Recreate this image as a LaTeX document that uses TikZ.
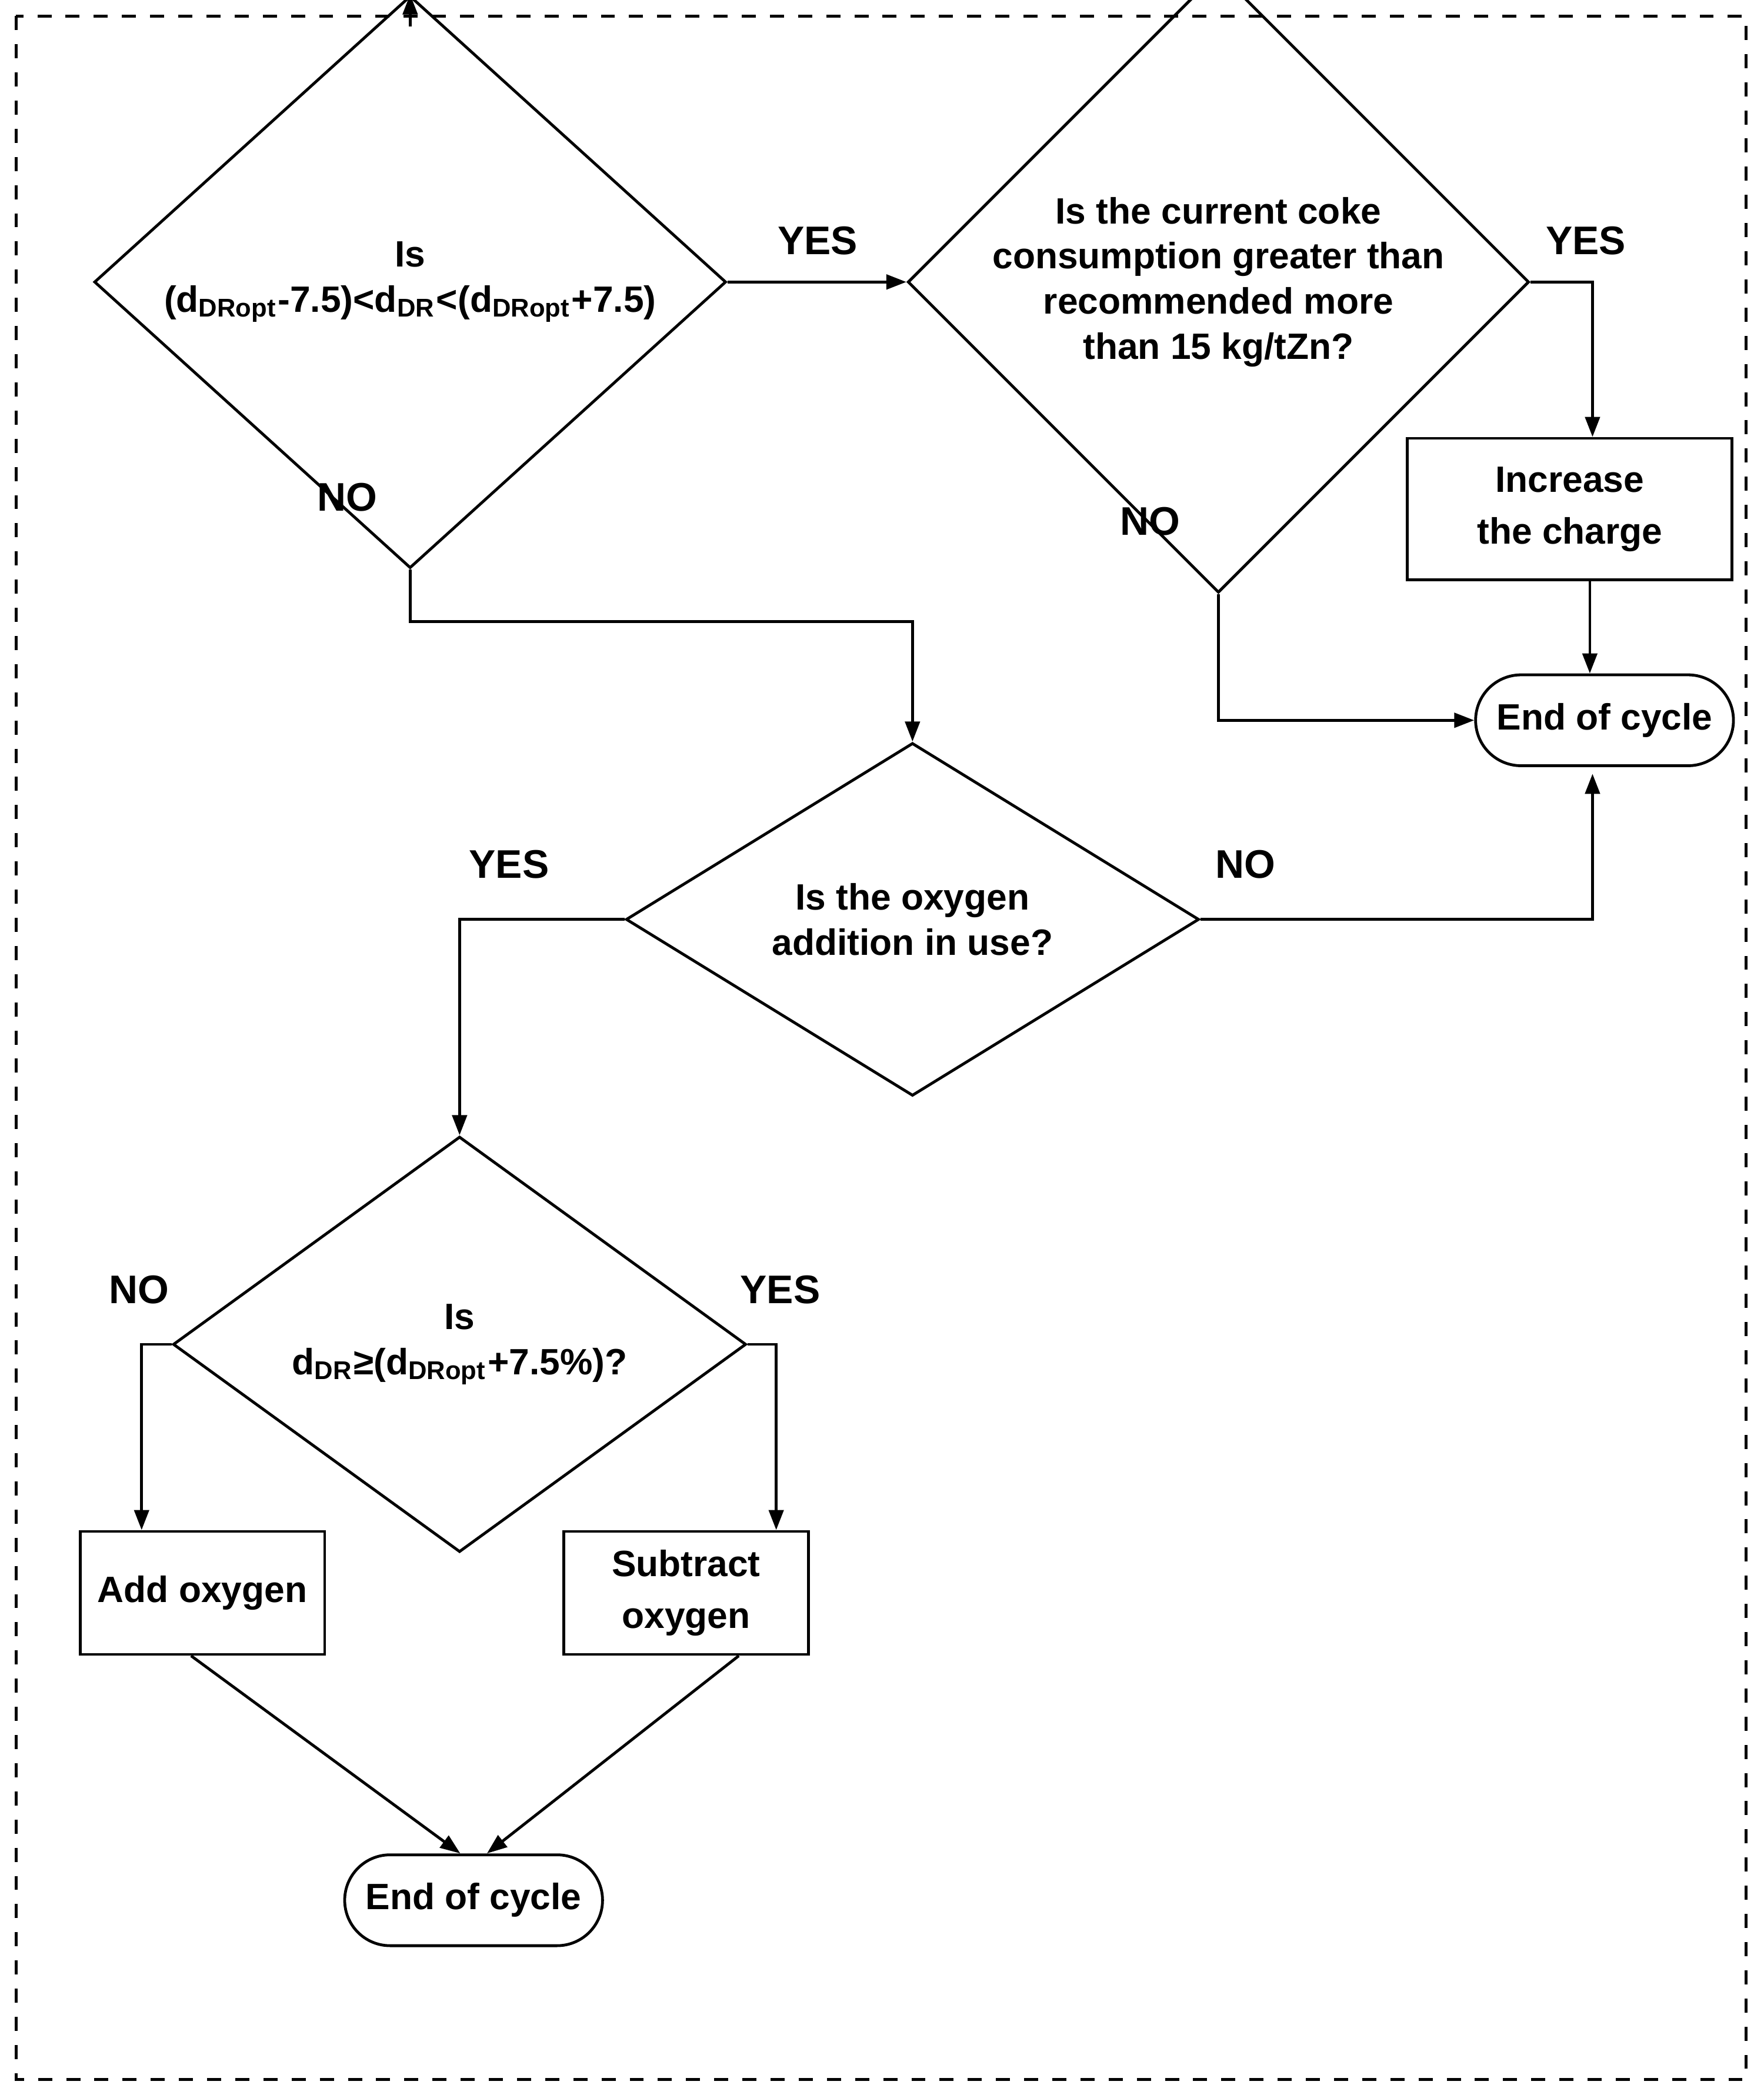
\documentclass[tikz,border=0pt]{standalone}
\usepackage{fontspec}
\setmainfont{Liberation Sans}
\usetikzlibrary{shapes.geometric,shapes.misc,arrows.meta}

\tikzset{
  flow/.style={line width=0.6pt},
  arr/.style={flow,-{Triangle[length=1.5mm,width=1.1mm]}},
  decision/.style={diamond,draw,line width=0.6pt,inner sep=0pt,align=center,
    font=\fontsize{7.8}{9.6}\selectfont\bfseries},
  action/.style={rectangle,draw,line width=0.6pt,inner sep=0pt,align=center,
    font=\fontsize{7.8}{11}\selectfont\bfseries},
  terminal/.style={rounded rectangle,draw,line width=0.6pt,inner sep=0pt,
    minimum width=1.93cm,minimum height=0.68cm,font=\fontsize{7.8}{9.6}\selectfont\bfseries},
  answer/.style={font=\fontsize{8.5}{10}\selectfont\bfseries}
}

\begin{document}
\begin{tikzpicture}[x=1cm,y=1cm]
   \useasboundingbox (0,0) rectangle (13.2,-15.7);
   % dashed frame
   \draw [flow, dashed] (0.12,-0.12) rectangle (13.07,-15.56);
   % decisions
   \node [decision, minimum width=4.73cm, minimum height=2.77cm] (dRange) at (3.07,-2.11)
      {Is\\(d\textsubscript{DRopt}-7.5)<d\textsubscript{DR}<(d\textsubscript{DRopt}+7.5)};
   \node [decision, minimum width=4.59cm, minimum height=3.18cm] (coke) at (9.12,-2.11)
      {Is the current coke\\consumption greater than\\recommended more\\than 15 kg/tZn?};
   \node [decision, minimum width=4.29cm, minimum height=2.47cm] (oxygen) at (6.83,-6.88)
      {Is the oxygen\\addition in use?};
   \node [decision, minimum width=4.29cm, minimum height=2.48cm] (dHigh) at (3.44,-10.06)
      {Is\\d\textsubscript{DR}≥(d\textsubscript{DRopt}+7.5\%)?};
   % actions
   \node [action, minimum width=2.43cm, minimum height=1.06cm] (charge) at (11.75,-3.81)
      {Increase\\the charge};
   \node [action, minimum width=1.83cm, minimum height=0.92cm] (addOx) at (1.515,-11.92)
      {Add oxygen};
   \node [action, minimum width=1.83cm, minimum height=0.92cm] (subOx) at (5.135,-11.92)
      {Subtract\\oxygen};
   % ends
   \node [terminal] (endA) at (12.01,-5.39) {End of cycle};
   \node [terminal] (endB) at (3.545,-14.22) {End of cycle};
   \coordinate (start) at (3.07,-0.2);
   % connectors
   \draw [arr] (start) -- (dRange.north);
   \draw [arr] (dRange.east) -- (coke.west);
   \draw [arr] (coke.east) -| (charge.north -| 11.92,0);
   \draw [arr] (charge.south -| 11.9,0) -- (endA.north -| 11.9,0);
   \draw [arr] (coke.south) |- (endA.west);
   \draw [arr] (dRange.south) -- (3.07,-4.65) -| (oxygen.north);
   \draw [arr] (oxygen.east) -| ([yshift=-0.05cm]endA.south -| 11.92,0);
   \draw [arr] (oxygen.west) -| (dHigh.north);
   \draw [arr] (dHigh.west) -| (addOx.north -| 1.06,0);
   \draw [arr] (dHigh.east) -| (subOx.north -| 5.81,0);
   \draw [arr] (addOx.south -| 1.43,0) -- ([xshift=-0.1cm]endB.north);
   \draw [arr] (subOx.south -| 5.53,0) -- ([xshift=0.1cm]endB.north);
   % answers
   \node [answer] (yesA) at (6.12,-1.8) {YES};
   \node [answer] (yesB) at (11.87,-1.8) {YES};
   \node [answer] (noA) at (2.6,-3.72) {NO};
   \node [answer] (noB) at (8.61,-3.9) {NO};
   \node [answer] (noC) at (9.32,-6.47) {NO};
   \node [answer] (yesC) at (3.81,-6.47) {YES};
   \node [answer] (noD) at (1.04,-9.65) {NO};
   \node [answer] (yesD) at (5.84,-9.65) {YES};
\end{tikzpicture}
\end{document}
